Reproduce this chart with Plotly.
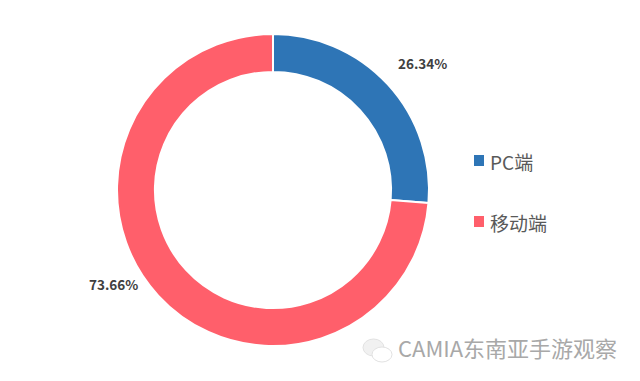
import plotly.graph_objects as go

labels = ["PC端", "移动端"]
values = [26.34, 73.66]
colors = ["#2e75b6", "#ff5f6b"]
value_labels = ["26.34%", "73.66%"]
watermark = "CAMIA东南亚手游观察"

W, H = 640, 381
cx, cy, R = 273, 190, 156

fig = go.Figure(go.Pie(
    labels=labels, values=values, hole=0.757, sort=False, direction="clockwise",
    rotation=0, marker=dict(colors=colors, line=dict(color="white", width=2)),
    textinfo="none", hoverinfo="label+percent", showlegend=False,
    domain=dict(x=[(cx - R) / W, (cx + R) / W], y=[1 - (cy + R) / H, 1 - (cy - R) / H]),
))

font = "Noto Sans CJK SC, Noto Sans, sans-serif"
ann = [
    dict(x=422 / W, y=1 - 63 / H, text=f"<b>{value_labels[0]}</b>", font=dict(size=13.5, color="#404040", family=font)),
    dict(x=113 / W, y=1 - 284 / H, text=f"<b>{value_labels[1]}</b>", font=dict(size=13.5, color="#404040", family=font)),
    dict(x=488 / W, y=1 - 161 / H, text=labels[0], xanchor="left", font=dict(size=19, color="#595959", family=font)),
    dict(x=488 / W, y=1 - 222 / H, text=labels[1], xanchor="left", font=dict(size=19, color="#595959", family=font)),
    dict(x=396 / W, y=1 - 347 / H, text=watermark, xanchor="left", font=dict(size=22, color="#a8a8a8", family=font)),
]
for a in ann:
    a.update(xref="paper", yref="paper", showarrow=False, yanchor="middle")
    a.setdefault("xanchor", "center")


def px_shape(kind, x0, y0, x1, y1, fill, line=None):
    return dict(type=kind, xref="paper", yref="paper", x0=x0 / W, x1=x1 / W, y0=1 - y1 / H, y1=1 - y0 / H,
                fillcolor=fill, line=dict(color=line or fill, width=1 if line else 0))


shapes = [
    px_shape("rect", 474, 155, 484, 166, colors[0]),
    px_shape("rect", 474, 216, 484, 227, colors[1]),
    # WeChat-style watermark icon
    px_shape("circle", 363, 339, 384, 356, "#f1f1f1", "#e2e2e2"),
    px_shape("circle", 372, 347, 392, 362, "#ffffff", "#e2e2e2"),
]

fig.update_layout(width=W, height=H, margin=dict(l=0, r=0, t=0, b=0), paper_bgcolor="white",
                  annotations=ann, shapes=shapes)
fig.write_html("out.html", post_script="document.body.style.margin='0';",
               config=dict(displayModeBar=False))
